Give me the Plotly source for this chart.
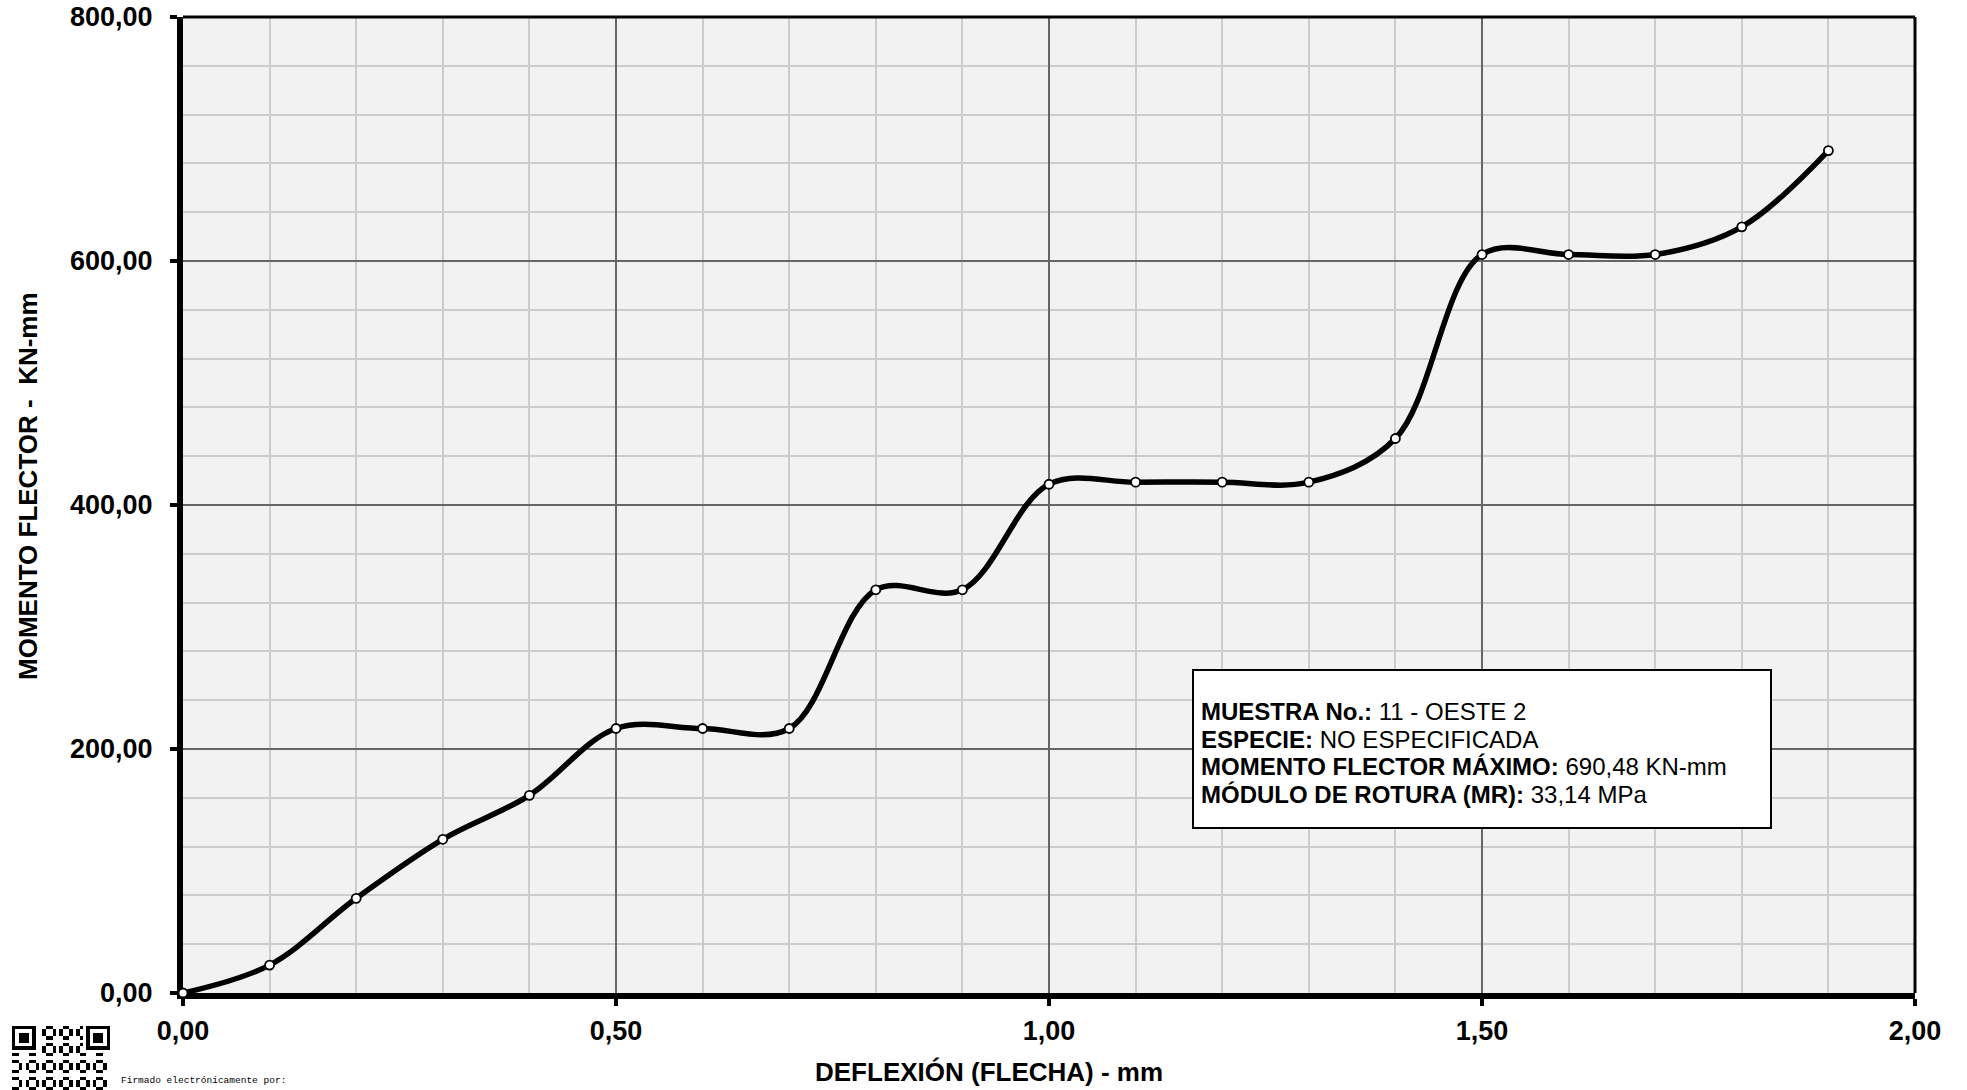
import base64
import plotly.graph_objects as go

# ---------------- data ----------------
deflexion = [0.0, 0.1, 0.2, 0.3, 0.4, 0.5, 0.6, 0.7, 0.8, 0.9,
             1.0, 1.1, 1.2, 1.3, 1.4, 1.5, 1.6, 1.7, 1.8, 1.9]
momento = [0.0, 22.9, 77.6, 126.0, 162.0, 216.8, 216.8, 216.8, 330.5, 330.5,
           417.0, 418.7, 418.7, 418.7, 454.5, 605.3, 605.3, 605.3, 628.0, 690.48]

x_title = "DEFLEXIÓN (FLECHA) - mm"
y_title = "MOMENTO FLECTOR -  KN-mm"
info_lines = [
    ("MUESTRA No.:", "11 - OESTE 2"),
    ("ESPECIE:", "NO ESPECIFICADA"),
    ("MOMENTO FLECTOR MÁXIMO:", "690,48 KN-mm"),
    ("MÓDULO DE ROTURA (MR):", "33,14 MPa"),
]
firma = "Firmado electrónicamente por:"

FONT = "Liberation Sans, Arial, sans-serif"

# ---------------- figure ----------------
W, H = 1967, 1090
L, R, T, B = 183, 52, 17, 97
PW, PH = W - L - R, H - T - B


def px(xp):
    return (xp - L) / PW


def py(yp):
    return (H - B - yp) / PH


fig = go.Figure()
fig.add_trace(go.Scatter(
    x=deflexion, y=momento, mode="lines+markers",
    line=dict(color="black", width=5.5, shape="spline", smoothing=1.0),
    marker=dict(size=9, color="white", line=dict(color="black", width=1.8)),
    cliponaxis=False, showlegend=False, hoverinfo="x+y",
))

axis_common = dict(
    showline=True, linecolor="black", linewidth=6,
    ticks="outside", ticklen=7, tickwidth=4, tickcolor="black",
    tickfont=dict(family=FONT, size=27, color="black", weight="bold"),
    showgrid=True, gridcolor="#666666", gridwidth=2.2,
    zeroline=False, layer="below traces", tickformat=".2f",
    fixedrange=True, automargin=False,
)

fig.update_xaxes(range=[0, 2], dtick=0.5, tick0=0,
                 minor=dict(dtick=0.1, showgrid=True, gridcolor="#cccccc", gridwidth=1.6, ticks=""),
                 ticklabelstandoff=2, **axis_common)
fig.update_yaxes(range=[0, 800], dtick=200, tick0=0,
                 minor=dict(dtick=40, showgrid=True, gridcolor="#cccccc", gridwidth=1.6, ticks=""),
                 ticklabelstandoff=12, **axis_common)

shapes = [
    dict(type="line", xref="paper", yref="paper", x0=0, x1=1, y0=1, y1=1,
         line=dict(color="black", width=3), layer="above"),
    dict(type="line", xref="paper", yref="paper", x0=1, x1=1, y0=0, y1=1,
         line=dict(color="black", width=3), layer="above"),
    dict(type="rect", xref="paper", yref="paper",
         x0=px(1193), x1=px(1771), y0=py(828), y1=py(670),
         line=dict(color="black", width=2), fillcolor="white", layer="above"),
]

annotations = [
    dict(text=f"<b>{x_title}</b>", xref="paper", yref="paper",
         x=px(989), y=py(1072), xanchor="center", yanchor="middle", showarrow=False,
         font=dict(family=FONT, size=26, color="black")),
    dict(text=f"<b>{y_title}</b>", xref="paper", yref="paper", textangle=-90,
         x=px(28), y=py(486), xanchor="center", yanchor="middle", showarrow=False,
         font=dict(family=FONT, size=26, color="black")),
    dict(text=firma, xref="paper", yref="paper",
         x=px(119), y=py(1080), xanchor="left", yanchor="middle", showarrow=False,
         font=dict(family="Liberation Mono, Courier New, monospace", size=9.5, color="black")),
]
line_y = [711, 739, 766.5, 794]
for (lab, val), yy in zip(info_lines, line_y):
    annotations.append(dict(
        text=f"<b>{lab}</b> {val}", xref="paper", yref="paper",
        x=px(1199), y=py(yy), xanchor="left", yanchor="middle", showarrow=False,
        font=dict(family=FONT, size=24, color="black")))

# decorative QR-like stamp (SVG image in the margin)
N = 29
cells = set()


def finder(r0, c0):
    for r in range(7):
        for c in range(7):
            if r in (0, 6) or c in (0, 6) or (2 <= r <= 4 and 2 <= c <= 4):
                cells.add((r0 + r, c0 + c))


finder(0, 0)
finder(0, N - 7)
finder(N - 7, 0)
for r in range(N):
    for c in range(N):
        if (r < 8 and (c < 8 or c >= N - 8)) or (r >= N - 8 and c < 8):
            continue
        if ((r * 7 + c * 11 + r * c) % 5) < 2:
            cells.add((r, c))
rects = "".join(f'<rect x="{c}" y="{r}" width="1" height="1"/>' for r, c in cells)
svg = (f'<svg xmlns="http://www.w3.org/2000/svg" viewBox="0 0 {N} {N}" '
       f'shape-rendering="crispEdges"><rect width="{N}" height="{N}" fill="white"/>'
       f'<g fill="black">{rects}</g></svg>')
src = "data:image/svg+xml;base64," + base64.b64encode(svg.encode()).decode()
images = [dict(source=src, xref="paper", yref="paper", x=px(12), y=py(1026),
               sizex=98 / PW, sizey=98 / PH, xanchor="left", yanchor="top",
               sizing="stretch", layer="above")]

fig.update_layout(
    width=W, height=H, autosize=False,
    margin=dict(l=L, r=R, t=T, b=B, pad=0),
    paper_bgcolor="white", plot_bgcolor="#f2f2f2",
    separators=",.",
    shapes=shapes, annotations=annotations, images=images,
    showlegend=False,
)

fig.write_html("out.html", config={"displayModeBar": False},
               post_script="document.body.style.margin='0';document.body.style.overflow='hidden';")
